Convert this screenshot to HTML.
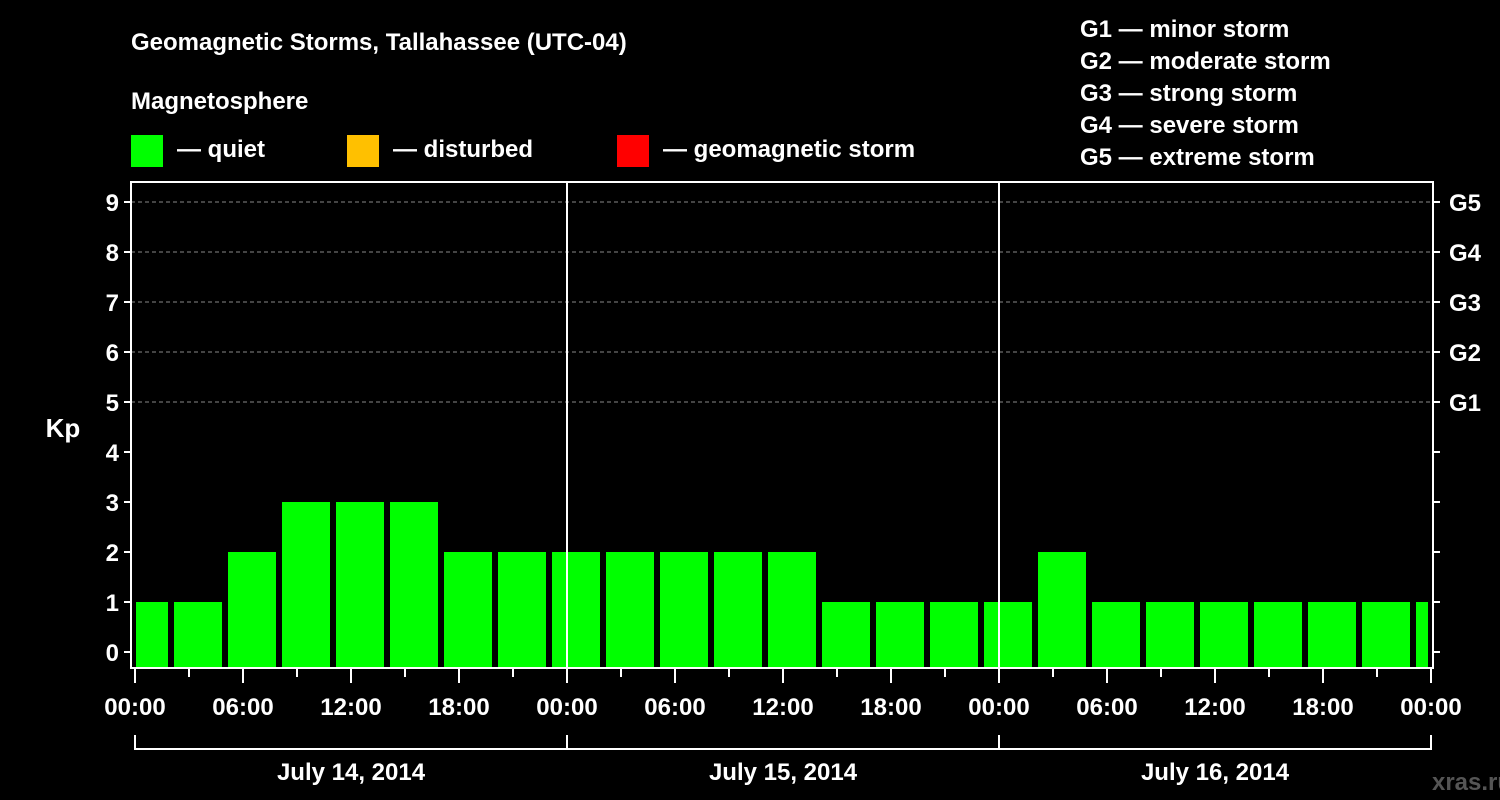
<!DOCTYPE html>
<html><head><meta charset="utf-8"><style>
body{margin:0;background:#000;width:1500px;height:800px;overflow:hidden}
svg{display:block;font-family:"Liberation Sans",sans-serif;font-weight:bold}
</style></head><body>
<svg id="c" width="1500" height="800">
<text x="131" y="50" fill="#fff" font-size="24">Geomagnetic Storms, Tallahassee (UTC-04)</text>
<text x="131" y="109" fill="#fff" font-size="24">Magnetosphere</text>
<g>
<rect x="131" y="135" width="32" height="32" fill="#00ff00"/>
<text x="177" y="157" fill="#fff" font-size="24">— quiet</text>
<rect x="347" y="135" width="32" height="32" fill="#ffc000"/>
<text x="393" y="157" fill="#fff" font-size="24">— disturbed</text>
<rect x="617" y="135" width="32" height="32" fill="#ff0000"/>
<text x="663" y="157" fill="#fff" font-size="24">— geomagnetic storm</text>
</g>
<g fill="#fff" font-size="24">
<text x="1080" y="37">G1 — minor storm</text>
<text x="1080" y="69">G2 — moderate storm</text>
<text x="1080" y="101">G3 — strong storm</text>
<text x="1080" y="133">G4 — severe storm</text>
<text x="1080" y="165">G5 — extreme storm</text>
</g>
<text x="63" y="437" fill="#fff" font-size="26" text-anchor="middle">Kp</text>
<text x="1472" y="790" fill="#555" font-size="24" text-anchor="middle">xras.ru</text>
<g id="plot"></g>
</svg>
<script>
const kpValues=[1,1,2,3,3,3,2,2,2,2,2,2,2,1,1,1,1,2,1,1,1,1,1,1,1];
const yTicks=[0,1,2,3,4,5,6,7,8,9];
const gLabels=["G1","G2","G3","G4","G5"];
const dayLabels=["July 14, 2014","July 15, 2014","July 16, 2014"];
const hourLabels=["00:00","06:00","12:00","18:00"];
const X0=135,PXH=18,L=131,R=1433,T=182,B=668;
const x=h=>X0+h*PXH;
const y=v=>652-v*50;
const g=document.getElementById('plot');
const NS='http://www.w3.org/2000/svg';
function mk(t,a,txt){const e=document.createElementNS(NS,t);for(const k in a)e.setAttribute(k,a[k]);if(txt!==undefined)e.textContent=txt;g.appendChild(e);return e;}
// grid
for(let v=5;v<=9;v++){const e=mk('line',{x1:L,x2:R,y1:y(v),y2:y(v),stroke:'#888','stroke-dasharray':'4,3','stroke-width':1});

}
// bars
kpValues.forEach((v,i)=>{let x1=Math.max(x(i*3)-15,L+5),x2=Math.min(x(i*3)+33,R-5);
const e=mk('rect',{x:x1,y:y(v),width:x2-x1,height:B-1-y(v),fill:v>=5?'#ff0000':(v>=4?'#ffc000':'#00ff00')});

});
// day separators
for(let d=1;d<3;d++){const e=mk('line',{x1:x(d*24),x2:x(d*24),y1:T,y2:B,stroke:'#fff','stroke-width':2});

}
// frame
const f=mk('rect',{x:L,y:T,width:R-L,height:B-T,fill:'none',stroke:'#fff','stroke-width':2});


// y ticks
yTicks.forEach(v=>{mk('line',{x1:L-7,x2:L,y1:y(v),y2:y(v),stroke:'#fff','stroke-width':2});
mk('line',{x1:R,x2:R+7,y1:y(v),y2:y(v),stroke:'#fff','stroke-width':2});
const t=mk('text',{x:L-12,y:y(v)+9,fill:'#fff','font-size':24,'text-anchor':'end'},v);

});
gLabels.forEach((s,i)=>{const t=mk('text',{x:R+16,y:y(5+i)+9,fill:'#fff','font-size':24},s);

});
// x ticks
for(let h=0;h<=72;h+=3){const major=h%6===0;mk('line',{x1:x(h),x2:x(h),y1:B,y2:B+(major?15:9),stroke:'#fff','stroke-width':2});
if(major){const t=mk('text',{x:x(h),y:715,fill:'#fff','font-size':24,'text-anchor':'middle'},hourLabels[(h/6)%4]);

}}
// date bracket
mk('line',{x1:x(0),x2:x(72),y1:749,y2:749,stroke:'#fff','stroke-width':2});
for(let d=0;d<=3;d++)mk('line',{x1:x(d*24),x2:x(d*24),y1:735,y2:750,stroke:'#fff','stroke-width':2});
dayLabels.forEach((s,i)=>{const t=mk('text',{x:x(i*24+12),y:780,fill:'#fff','font-size':24,'text-anchor':'middle'},s);

});
</script>
</body></html>
